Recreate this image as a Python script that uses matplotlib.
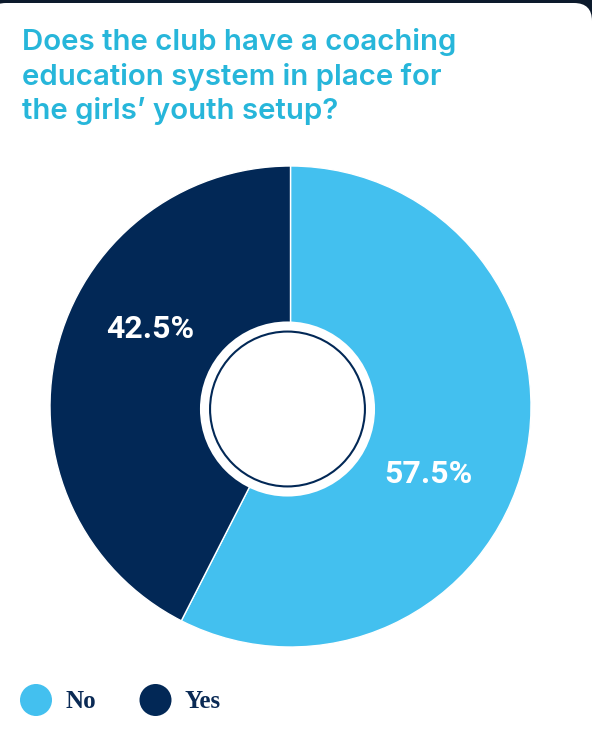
import matplotlib
matplotlib.use("Agg")
import matplotlib.pyplot as plt
from matplotlib.patches import FancyBboxPatch, Circle, Ellipse

# Survey answers
categories = ["No", "Yes"]
shares = [57.5, 42.5]
colors = ["#43C0EF", "#022856"]
title_lines = ["Does the club have a coaching",
               "education system in place for",
               "the girls\u2019 youth setup?"]

W, H = 592, 738
fig = plt.figure(figsize=(W / 100, H / 100), dpi=100, facecolor="#0c1a2c")

# Card background in pixel coordinates
bg = fig.add_axes([0, 0, 1, 1])
bg.set_xlim(0, W)
bg.set_ylim(H, 0)
bg.axis("off")
bg.add_patch(FancyBboxPatch((-12, 3), W + 12, H + 40,
                            boxstyle="round,pad=0,rounding_size=18",
                            facecolor="white", edgecolor="none"))

# Title, one line per baseline
for i, line in enumerate(title_lines):
    bg.text(22, 50 + 34.7 * i, line, color="#27B6DA", fontsize=21.2,
            family="Inter", fontweight="semibold", va="baseline", ha="left")

# Donut
cx, cy, r = 290.5, 406.5, 240.5
pax = fig.add_axes([(cx - r) / W, (H - cy - r) / H, 2 * r / W, 2 * r / H])
wedges, _ = pax.pie(shares, colors=colors, startangle=90, counterclock=False,
                    radius=1.0, wedgeprops=dict(edgecolor="white", linewidth=1.0))
pax.set_xlim(-1, 1)
pax.set_ylim(-1, 1)
pax.set_aspect("equal")
pax.axis("off")

hole_c = (-0.0125, -0.0104)
pax.add_patch(Circle(hole_c, 0.364, facecolor="white", edgecolor="none", zorder=3))
pax.add_patch(Circle(hole_c, 0.322, facecolor="none", edgecolor="#022856",
                     linewidth=1.5, zorder=4))

label_pos = [(0.575, -0.281), (-0.585, 0.322)]
for val, (lx, ly) in zip(shares, label_pos):
    pax.text(lx, ly, f"{val:.1f}%", color="white", fontsize=23, family="Roboto",
             fontweight="bold", ha="center", va="center", zorder=5)

# Legend
legend_x = [36, 155.5]
for name, col, x in zip(categories, colors, legend_x):
    bg.add_patch(Ellipse((x, 700), 32, 32, facecolor=col, edgecolor="none"))
    bg.text(x + 29, 708, name, color="#0A2A55", fontsize=18,
            family="Liberation Serif", fontweight="bold", va="baseline", ha="left")

fig.savefig("out.png", dpi=100, facecolor=fig.get_facecolor())
